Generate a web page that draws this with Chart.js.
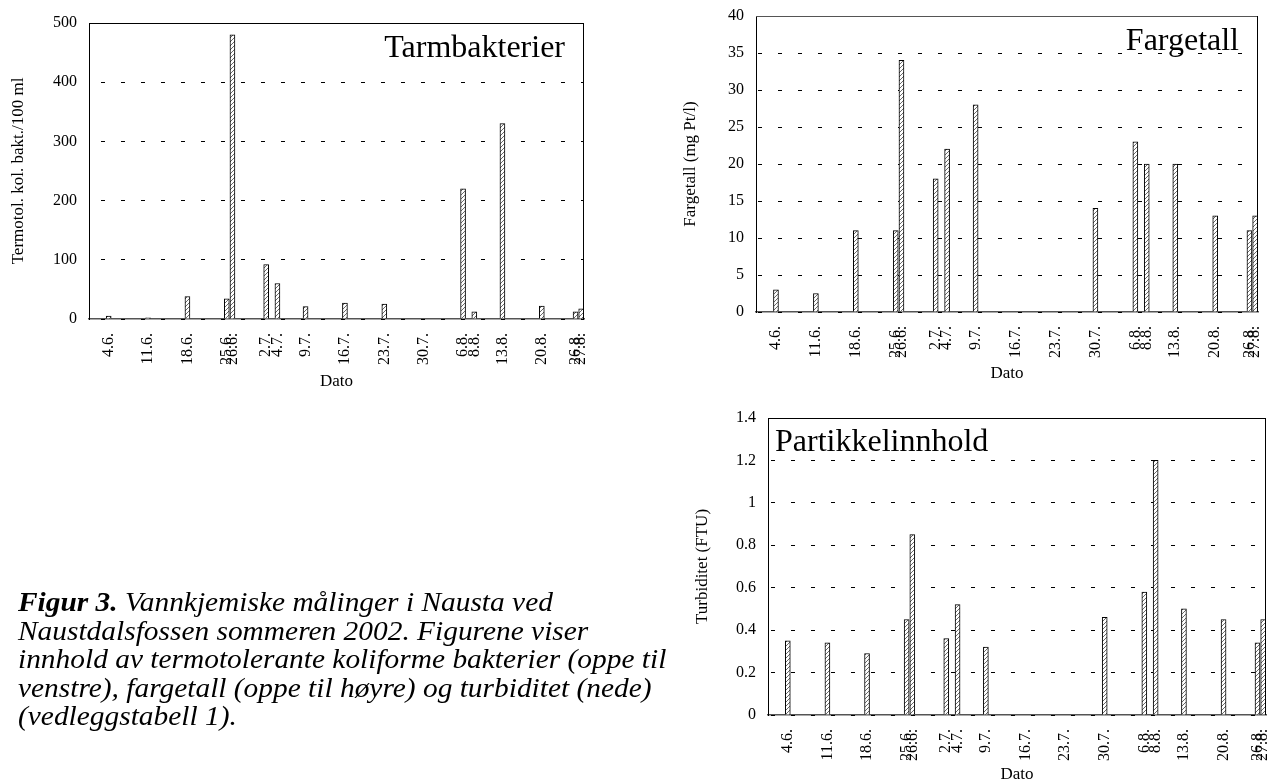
<!DOCTYPE html>
<html><head><meta charset="utf-8">
<script src="https://cdn.jsdelivr.net/npm/chart.js@4.4.1/dist/chart.umd.min.js"></script>
<style>
html,body{margin:0;padding:0;background:#fff;overflow:hidden;width:1270px;height:783px;position:relative;}
canvas{position:absolute;}
#caption{position:absolute;left:18px;top:588px;font-family:"Liberation Serif","Times New Roman",serif;font-style:italic;font-size:28px;line-height:28.5px;color:#000;white-space:nowrap;transform:scaleX(1.05);transform-origin:0 0;}
</style></head><body>
<canvas id="c1" width="600" height="400" style="left:0;top:0"></canvas>
<canvas id="c2" width="630" height="400" style="left:640px;top:0"></canvas>
<canvas id="c3" width="630" height="400" style="left:640px;top:400px"></canvas>
<div id="caption"><b>Figur 3.</b> Vannkjemiske målinger i Nausta ved<br>Naustdalsfossen sommeren 2002. Figurene viser<br>innhold av termotolerante koliforme bakterier (oppe til<br>venstre), fargetall (oppe til høyre) og turbiditet (nede)<br>(vedleggstabell 1).</div>
<script>
// ---- data ----
const dates = ["4.6.","11.6.","18.6.","25.6.","26.6.","2.7.","4.7.","9.7.","16.7.","23.7.","30.7.","6.8.","8.8.","13.8.","20.8.","26.8.","27.8."];
const tarmbakterier = [5, 2, 38, 34, 480, 92, 60, 21, 27, 25, null, 220, 12, 330, 22, 12, 17];
const fargetall = [3, 2.5, 11, 11, 34, 18, 22, 28, null, null, 14, 23, 20, 20, 13, 11, 13];
const turbiditet = [0.35, 0.34, 0.29, 0.45, 0.85, 0.36, 0.52, 0.32, null, null, 0.46, 0.58, 1.2, 0.50, 0.45, 0.34, 0.45];
const yTicksTarm = ["0","100","200","300","400","500"];
const yTicksFarge = ["0","5","10","15","20","25","30","35","40"];
const yTicksTurb = ["0","0.2","0.4","0.6","0.8","1","1.2","1.4"];

// ---- helpers ----
function dayNumber(label) {
  const p = label.split('.');
  return Math.round(Date.UTC(2002, Number(p[1]) - 1, Number(p[0])) / 86400000);
}
const dayValues = dates.map(dayNumber);
const labelByDay = new Map(dayValues.map((d, i) => [d, dates[i]]));

Chart.defaults.font.family = "'Liberation Serif','Times New Roman',serif";
Chart.defaults.color = '#000';

function makeHatch() {
  const c = document.createElement('canvas');
  c.width = 4; c.height = 4;
  const g = c.getContext('2d');
  g.fillStyle = '#fff'; g.fillRect(0, 0, 4, 4);
  g.strokeStyle = '#6a6a6a'; g.lineWidth = 1;
  g.beginPath();
  g.moveTo(0, 4); g.lineTo(4, 0);
  g.moveTo(-1, 1); g.lineTo(1, -1);
  g.moveTo(3, 5); g.lineTo(5, 3);
  g.stroke();
  return g.createPattern(c, 'repeat');
}
const hatch = makeHatch();

const framePlugin = {
  id: 'plotFrame',
  beforeDatasetsDraw(chart, args, opts) {
    const ctx = chart.ctx;
    const a = chart.chartArea;
    ctx.save();
    ctx.lineWidth = 1;
    ctx.strokeStyle = opts.topColor || '#000';
    ctx.beginPath(); ctx.moveTo(a.left, Math.round(a.top) + 0.5); ctx.lineTo(a.right, Math.round(a.top) + 0.5); ctx.stroke();
    ctx.strokeStyle = '#000';
    ctx.beginPath(); ctx.moveTo(Math.round(a.right) - 0.5, a.top); ctx.lineTo(Math.round(a.right) - 0.5, a.bottom); ctx.stroke();
    ctx.restore();
  }
};
const titlePlugin = {
  id: 'panelTitle',
  afterDraw(chart, args, o) {
    const ctx = chart.ctx;
    const a = chart.chartArea;
    ctx.save();
    ctx.font = "32px 'Liberation Serif'";
    ctx.fillStyle = '#000';
    ctx.textBaseline = 'alphabetic';
    ctx.textAlign = o.align;
    const x = o.align === 'right' ? a.right - o.dx : a.left + o.dx;
    ctx.fillText(o.text, x, a.top + o.dy);
    ctx.restore();
  }
};

function makeChart(id, title, values, yLabels, L) {
  const yVals = yLabels.map(Number);
  return new Chart(document.getElementById(id), {
    type: 'bar',
    data: {
      datasets: [{
        data: dayValues.map((d, i) => ({x: d, y: values[i]})),
        backgroundColor: hatch,
        borderColor: '#000',
        borderWidth: 1,
        barThickness: 5
      }]
    },
    plugins: [framePlugin, titlePlugin],
    options: {
      responsive: false, animation: false, devicePixelRatio: 1,
      layout: {padding: {left: 0, top: L.top, right: L.right, bottom: 0}},
      plugins: {
        legend: {display: false}, tooltip: {enabled: false},
        plotFrame: {topColor: L.topColor},
        panelTitle: title
      },
      scales: {
        x: {
          type: 'linear',
          min: dayValues[0] - 3.5,
          max: dayValues[dayValues.length - 1] + 0.5,
          offset: false,
          grid: {display: false, offset: false, z: -3},
          border: {display: true, color: '#555', width: 1.5, z: -2},
          ticks: {autoSkip: false, minRotation: 90, maxRotation: 90, padding: 6, font: {size: 16},
                  callback: v => labelByDay.get(v) ?? ''},
          afterBuildTicks: s => { s.ticks = dayValues.map(v => ({value: v})); },
          afterFit: s => { s.height = L.xh; s.paddingLeft = 0; s.paddingRight = 0; },
          title: {display: true, text: 'Dato', font: {size: 17}, padding: {top: 0, bottom: L.xtp}}
        },
        y: {
          min: yVals[0], max: yVals[yVals.length - 1],
          grid: {color: '#000', lineWidth: 1, drawTicks: false},
          border: {display: true, color: '#000', width: 1, dash: [4, 16], dashOffset: L.dash},
          ticks: {padding: 12, font: {size: 16}, callback: (v, i) => yLabels[i]},
          afterBuildTicks: s => { s.ticks = yVals.map(v => ({value: v})); },
          afterFit: s => { s.width = L.yw; s.paddingTop = 0; s.paddingBottom = 0; },
          title: {display: true, text: L.ytitle, font: {size: 17}, padding: {top: L.ytp, bottom: 0}}
        }
      }
    }
  });
}

makeChart('c1', {text: 'Tarmbakterier', align: 'right', dx: 19, dy: 34}, tarmbakterier, yTicksTarm,
  {top: 23, right: 16, yw: 89, xh: 81, xtp: 8.3, ytp: 8.8, dash: 9, topColor: '#000', ytitle: 'Termotol. kol. bakt./100 ml'});
makeChart('c2', {text: 'Fargetall', align: 'right', dx: 19, dy: 34}, fargetall, yTicksFarge,
  {top: 16, right: 12, yw: 116, xh: 88, xtp: 15.8, ytp: 40.8, dash: 19, topColor: '#555', ytitle: 'Fargetall (mg Pt/l)'});
makeChart('c3', {text: 'Partikkelinnhold', align: 'left', dx: 7, dy: 33}, turbiditet, yTicksTurb,
  {top: 18, right: 4, yw: 128, xh: 85, xtp: 14.8, ytp: 52.8, dash: 18, topColor: '#000', ytitle: 'Turbiditet (FTU)'});
</script>
</body></html>
